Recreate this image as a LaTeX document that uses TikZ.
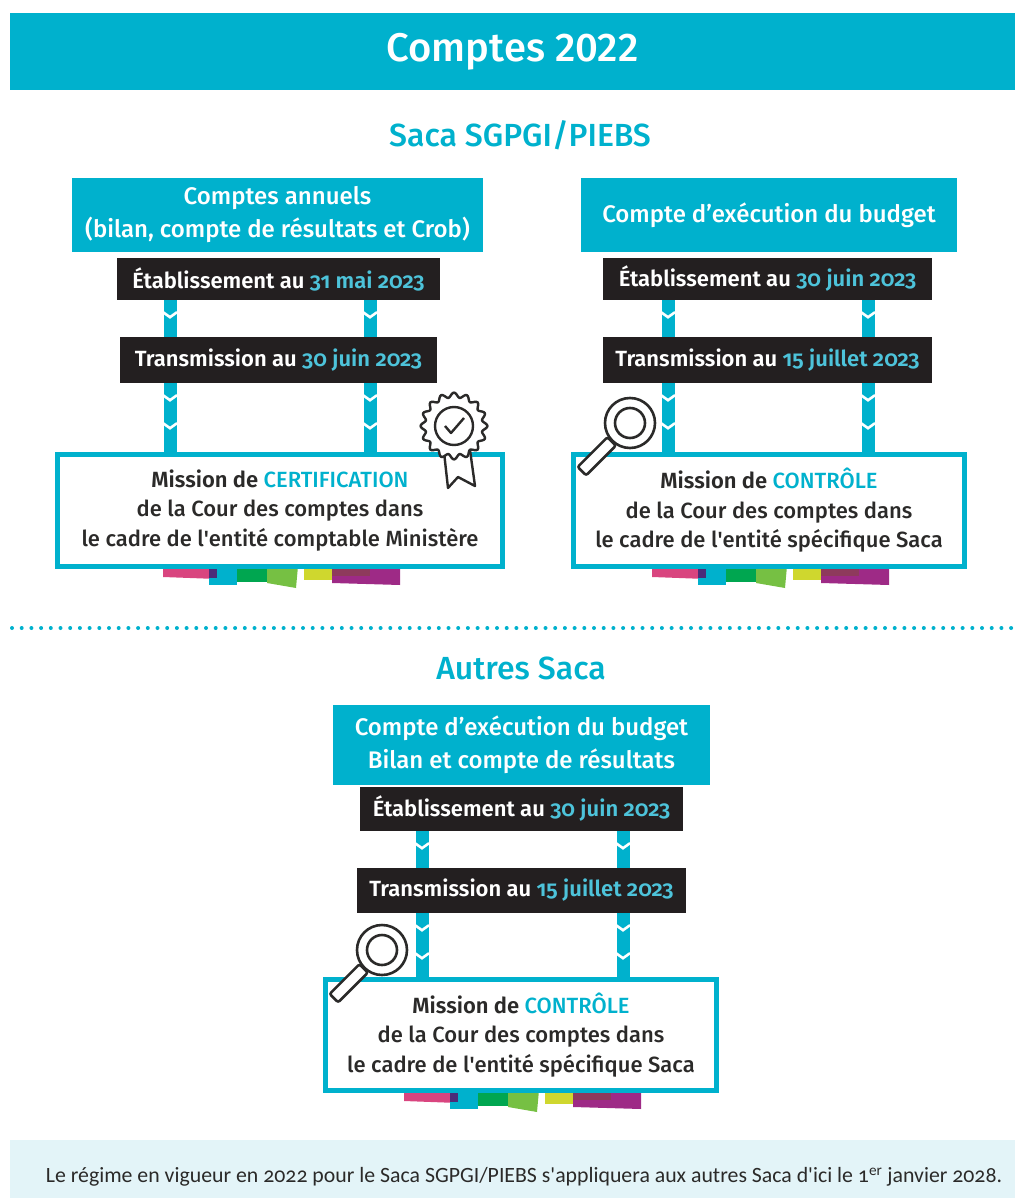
\documentclass[tikz,border=0pt]{standalone}
\usepackage{fontspec}
\setmainfont{Fira Sans}[Numbers=OldStyle,UprightFont=* Medium,BoldFont=* SemiBold]
\newfontfamily\footfont{Carlito}[Numbers=OldStyle]
\usetikzlibrary{positioning,decorations.markings}
\definecolor{cyanC}{HTML}{00B1CD}
\definecolor{dateC}{HTML}{4DC3DA}
\definecolor{inkC}{HTML}{231F20}
\definecolor{textC}{HTML}{2B2A29}
\definecolor{footC}{HTML}{E3F4F8}
\definecolor{pinkC}{HTML}{D9457F}
\definecolor{purpC}{HTML}{4B2C79}
\definecolor{greenC}{HTML}{00A650}
\definecolor{limeC}{HTML}{76C043}
\definecolor{yellowC}{HTML}{CFD72E}
\definecolor{magC}{HTML}{9E2A86}
\definecolor{maroonC}{HTML}{8E3A5C}
% coloured tabs under a mission box: centre x, top y
\newcommand\tabstrips[2]{%
  \begin{scope}[shift={(#1,#2)}]
    \fill[pinkC] (-117,0) -- (-63,0) -- (-63,13) -- (-117,11) -- cycle;
    \fill[cyanC] (-71,0) rectangle (-43,19);
    \fill[purpC] (-71,0) rectangle (-63,12);
    \fill[greenC] (-43,0) rectangle (-13,16);
    \fill[limeC] (-13,0) -- (18,0) -- (16,22) -- (-13,17) -- cycle;
    \fill[yellowC] (24,0) rectangle (52,14);
    \fill[magC] (52,0) -- (120,0) -- (120,19) -- (52,17) -- cycle;
    \fill[maroonC] (52,0) rectangle (90,10);
  \end{scope}}
% magnifying glass: centre of the lens
\newcommand\loupe[2]{%
  \begin{scope}[shift={(#1,#2)},line width=2.6,draw=textC]
    \draw[fill=white,rounded corners=2] (-14.2,22.6) -- (-22.6,14.2) -- (-52.3,43.9) -- (-43.9,52.3) -- cycle;
    \draw[fill=white] (0,0) circle (25);
    \draw (0,0) circle (15);
  \end{scope}}
% certification rosette: centre
\newcommand\rosette[2]{%
  \begin{scope}[shift={(#1,#2)},line width=2.4,draw=textC,line join=round]
    \draw[fill=white] (-10,26) -- (-6,62) -- (4,51) -- (21,60) -- (16,24) -- cycle;
    \draw[fill=white] plot[domain=0:357.75,samples=160,smooth cycle] (\x:{31+2.4*cos(16*\x)});
    \draw (0,0) circle (19);
    \draw (-9,0) -- (-3,7) -- (10,-8);
  \end{scope}}
\begin{document}
\begin{tikzpicture}
  [x=1pt,y=-1pt,
   titleband/.style={fill=cyanC,text=white,minimum width=1005,minimum height=77,
     font=\fontsize{40}{42}\selectfont\addfontfeatures{Numbers=Lining}},
   subtitle/.style={text=cyanC,font=\fontsize{32}{34}\selectfont},
   cyanbox/.style={fill=cyanC,text=white,align=center,inner sep=0,
     font=\fontsize{24}{33}\selectfont},
   blackbox/.style={fill=inkC,text=white,inner sep=0,
     font=\fontsize{22}{24}\selectfont\bfseries},
   missbox/.style={draw=cyanC,line width=5,fill=white,text=textC,align=center,inner sep=0,
     font=\fontsize{22}{29.5}\selectfont},
   chevbar/.style={draw=cyanC,line width=13,postaction={decorate},
     decoration={markings,mark=between positions 17pt and -8pt step 28pt with
       {\draw[white,line width=2.6] (-5,-7) -- (0,0) -- (-5,7);}}}]
  \useasboundingbox (0,0) rectangle (1015,1198);

  \node[titleband] (title) at (512.5,51.5) {Comptes 2022};
  \node[subtitle] (sacaS) at (520,135) {Saca SGPGI/PIEBS};

  % Saca SGPGI/PIEBS, left column
  \tabstrips{280}{566}
  \node[cyanbox,minimum width=411,minimum height=74] (calL) at (277.5,215)
    {Comptes annuels\\(bilan, compte de résultats et Crob)};
  \node[blackbox,minimum width=323,minimum height=42] (etabL) at (278.5,279)
    {Établissement au {\color{dateC}31 mai 2023}};
  \node[blackbox,minimum width=317,minimum height=46] (transL) at (278.5,360)
    {Transmission au {\color{dateC}30 juin 2023}};
  \node[missbox,minimum width=445,minimum height=112] (missL) at (280,510.5)
    {\bfseries Mission de {\mdseries\color{cyanC}CERTIFICATION}\\de la Cour des comptes dans\\le cadre de l\textquotesingle entité comptable Ministère};
  \coordinate (colL1) at (170,0);
  \coordinate (colL2) at (370,0);
  \foreach \c in {colL1,colL2} {
    \draw[chevbar] (etabL.south -| \c) -- (transL.north -| \c);
    \draw[chevbar] (transL.south -| \c) -- (missL.north -| \c);
  }
  \rosette{454}{426}

  % Saca SGPGI/PIEBS, right column
  \tabstrips{769}{566}
  \node[cyanbox,minimum width=376,minimum height=74] (calR) at (769,215)
    {Compte d’exécution du budget};
  \node[blackbox,minimum width=329,minimum height=42] (etabR) at (767.5,279)
    {Établissement au {\color{dateC}30 juin 2023}};
  \node[blackbox,minimum width=329,minimum height=46] (transR) at (767.5,360)
    {Transmission au {\color{dateC}15 juillet 2023}};
  \node[missbox,minimum width=391,minimum height=112] (missR) at (769,510.5)
    {\bfseries Mission de {\mdseries\color{cyanC}CONTRÔLE}\\de la Cour des comptes dans\\le cadre de l\textquotesingle entité spécifique Saca};
  \coordinate (colR1) at (668,0);
  \coordinate (colR2) at (868,0);
  \foreach \c in {colR1,colR2} {
    \draw[chevbar] (etabR.south -| \c) -- (transR.north -| \c);
    \draw[chevbar] (transR.south -| \c) -- (missR.north -| \c);
  }
  \loupe{630}{423}

  % separator
  \draw[cyanC,line width=4,line cap=round,dash pattern=on 0pt off 9.7pt] (12,628) -- (1015,628);

  % Autres Saca
  \node[subtitle] (sacaA) at (521,668) {Autres Saca};
  \tabstrips{521}{1090}
  \node[cyanbox,minimum width=377,minimum height=80] (calB) at (521.5,745)
    {Compte d’exécution du budget\\Bilan et compte de résultats};
  \node[blackbox,minimum width=323,minimum height=44] (etabB) at (521.5,809)
    {Établissement au {\color{dateC}30 juin 2023}};
  \node[blackbox,minimum width=329,minimum height=45] (transB) at (521.5,890.5)
    {Transmission au {\color{dateC}15 juillet 2023}};
  \node[missbox,minimum width=391,minimum height=111] (missB) at (521,1035)
    {\bfseries Mission de {\mdseries\color{cyanC}CONTRÔLE}\\de la Cour des comptes dans\\le cadre de l\textquotesingle entité spécifique Saca};
  \coordinate (colB1) at (422,0);
  \coordinate (colB2) at (623,0);
  \foreach \c in {colB1,colB2} {
    \draw[chevbar] (etabB.south -| \c) -- (transB.north -| \c);
    \draw[chevbar] (transB.south -| \c) -- (missB.north -| \c);
  }
  \loupe{382}{950}

  % footer
  \node[fill=footC,minimum width=1005,minimum height=58] (foot) at (512.5,1169) {};
  \node[text=textC,font=\footfont\fontsize{21.8}{24}\selectfont] (footT) at (524,1177)
    {Le régime en vigueur en 2022 pour le Saca SGPGI/PIEBS s\textquotesingle appliquera aux autres Saca d\textquotesingle ici le 1\textsuperscript{er} janvier 2028.};
\end{tikzpicture}
\end{document}
